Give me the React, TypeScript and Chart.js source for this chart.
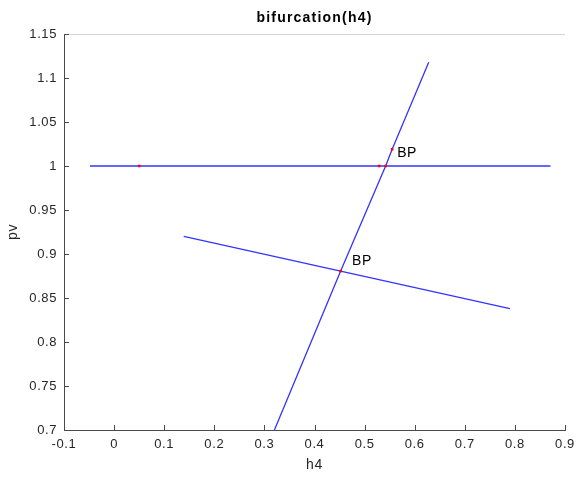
import React, { useEffect, useRef } from "react";
import { Chart, registerables } from "chart.js";

Chart.register(...registerables);

const titleText = "bifurcation(h4)";
const xTitle = "h4";
const yTitle = "pv";

const xMin = -0.1;
const xMax = 0.9;
const xStep = 0.1;
const yMin = 0.7;
const yMax = 1.15;
const yStep = 0.05;

const branch1X = [-0.048, 0.05, 0.529, 0.542, 0.871];
const branch1Y = [1.0, 1.0, 1.0, 1.0, 1.0];

const branch2X = [0.32, 0.452, 0.542, 0.555, 0.628];
const branch2Y = [0.7, 0.8805, 1.0, 1.019, 1.118];

const branch3X = [0.139, 0.452, 0.79];
const branch3Y = [0.92, 0.8805, 0.838];

const specialX = [0.05, 0.529, 0.542, 0.555, 0.452];
const specialY = [1.0, 1.0, 1.0, 1.019, 0.8805];

const bpLabels = ["BP", "BP"];
const bpLabelX = [0.565, 0.475];
const bpLabelY = [1.015, 0.8915];

const toPts = (xs: number[], ys: number[]) => xs.map((x, i) => ({ x, y: ys[i] }));
const fmt = (v: number) => String(Math.round(v * 100) / 100);

const FONT = "'Liberation Sans', Arial, sans-serif";
const AXIS_COLOR = "#4a4a4a";
const TEXT_COLOR = "#262626";

export default function App() {
  const ref = useRef<HTMLCanvasElement | null>(null);

  useEffect(() => {
    document.body.style.margin = "0";
    const canvas = ref.current;
    if (!canvas) return;

    const spacingPlugin = {
      id: "spacing",
      beforeDraw(chart: any) {
        (chart.ctx as any).letterSpacing = "0.6px";
      },
    };

    const decor = {
      id: "decor",
      afterDraw(chart: any) {
        const ctx = chart.ctx as CanvasRenderingContext2D;
        const area = chart.chartArea;
        const xs = chart.scales.x;
        const ys = chart.scales.y;
        ctx.save();
        ctx.strokeStyle = "#d4d4d4";
        ctx.lineWidth = 1;
        ctx.beginPath();
        ctx.moveTo(area.left, Math.round(area.top) + 0.5);
        ctx.lineTo(area.right, Math.round(area.top) + 0.5);
        ctx.stroke();
        ctx.strokeStyle = AXIS_COLOR;
        ctx.lineWidth = 1;
        ctx.beginPath();
        xs.ticks.forEach((t: any) => {
          const px = Math.round(xs.getPixelForValue(t.value)) + 0.5;
          ctx.moveTo(px, area.bottom);
          ctx.lineTo(px, area.bottom - 5);
        });
        ys.ticks.forEach((t: any) => {
          const py = Math.round(ys.getPixelForValue(t.value)) + 0.5;
          ctx.moveTo(area.left, py);
          ctx.lineTo(area.left + 5, py);
        });
        ctx.stroke();
        (ctx as any).letterSpacing = "1.2px";
        ctx.fillStyle = "#000";
        ctx.font = `bold 14px ${FONT}`;
        ctx.textAlign = "center";
        ctx.textBaseline = "middle";
        ctx.fillText(titleText, (area.left + area.right) / 2, 18);
        (ctx as any).letterSpacing = "0.6px";
        ctx.fillStyle = TEXT_COLOR;
        ctx.font = `14px ${FONT}`;
        ctx.fillText(xTitle, (area.left + area.right) / 2, 465);
        ctx.save();
        ctx.translate(13, (area.top + area.bottom) / 2);
        ctx.rotate(-Math.PI / 2);
        ctx.fillText(yTitle, 0, 0);
        ctx.restore();
        ctx.font = `14px ${FONT}`;
        ctx.textAlign = "left";
        ctx.fillStyle = "#000";
        bpLabels.forEach((s, i) => {
          ctx.fillText(s, xs.getPixelForValue(bpLabelX[i]), ys.getPixelForValue(bpLabelY[i]));
        });
        ctx.restore();
      },
    };

    const lineDs = (xs: number[], ys: number[]) => ({
      data: toPts(xs, ys),
      showLine: true,
      borderColor: "#3333ff",
      borderWidth: 1.3,
      pointRadius: 0,
      pointHoverRadius: 0,
      fill: false,
      order: 2,
    });

    const chart = new Chart(canvas, {
      type: "scatter",
      data: {
        datasets: [
          {
            data: toPts(specialX, specialY),
            showLine: false,
            pointStyle: "rect",
            pointRadius: 1.8,
            pointBorderWidth: 0,
            backgroundColor: "#ff0000",
            borderColor: "#ff0000",
            order: 1,
          } as any,
          lineDs(branch1X, branch1Y),
          lineDs(branch2X, branch2Y),
          lineDs(branch3X, branch3Y),
        ],
      },
      options: {
        responsive: false,
        animation: false,
        devicePixelRatio: 1,
        layout: { padding: { top: 34, right: 11, left: 0, bottom: 0 } },
        plugins: {
          legend: { display: false },
          title: { display: false },
          tooltip: { enabled: false },
        },
        scales: {
          x: {
            type: "linear",
            min: xMin,
            max: xMax,
            afterFit(scale: any) {
              scale.height = 48;
              scale.paddingLeft = 0;
              scale.paddingRight = 0;
            },
            afterBuildTicks(scale: any) {
              const t = [];
              for (let v = xMin; v <= xMax + 1e-9; v += xStep) t.push({ value: Math.round(v * 100) / 100 });
              scale.ticks = t;
            },
            ticks: {
              autoSkip: false,
              maxRotation: 0,
              padding: 7,
              color: TEXT_COLOR,
              font: { family: FONT, size: 13 },
              callback: (v: any) => fmt(Number(v)),
            },
            grid: { drawOnChartArea: false, drawTicks: false },
            border: { display: true, color: AXIS_COLOR, width: 1 },
          },
          y: {
            type: "linear",
            min: yMin,
            max: yMax,
            afterFit(scale: any) {
              scale.width = 64;
              scale.paddingTop = 0;
              scale.paddingBottom = 0;
            },
            afterBuildTicks(scale: any) {
              const t = [];
              for (let v = yMin; v <= yMax + 1e-9; v += yStep) t.push({ value: Math.round(v * 100) / 100 });
              scale.ticks = t;
            },
            ticks: {
              autoSkip: false,
              padding: 7,
              color: TEXT_COLOR,
              font: { family: FONT, size: 13 },
              callback: (v: any) => fmt(Number(v)),
            },
            grid: { drawOnChartArea: false, drawTicks: false },
            border: { display: true, color: AXIS_COLOR, width: 1 },
          },
        },
      } as any,
      plugins: [spacingPlugin, decor],
    });

    return () => chart.destroy();
  }, []);

  return (
    <div style={{ position: "absolute", left: 0, top: 0, width: 576, height: 478, background: "#fff" }}>
      <canvas ref={ref} width={576} height={478} />
    </div>
  );
}
